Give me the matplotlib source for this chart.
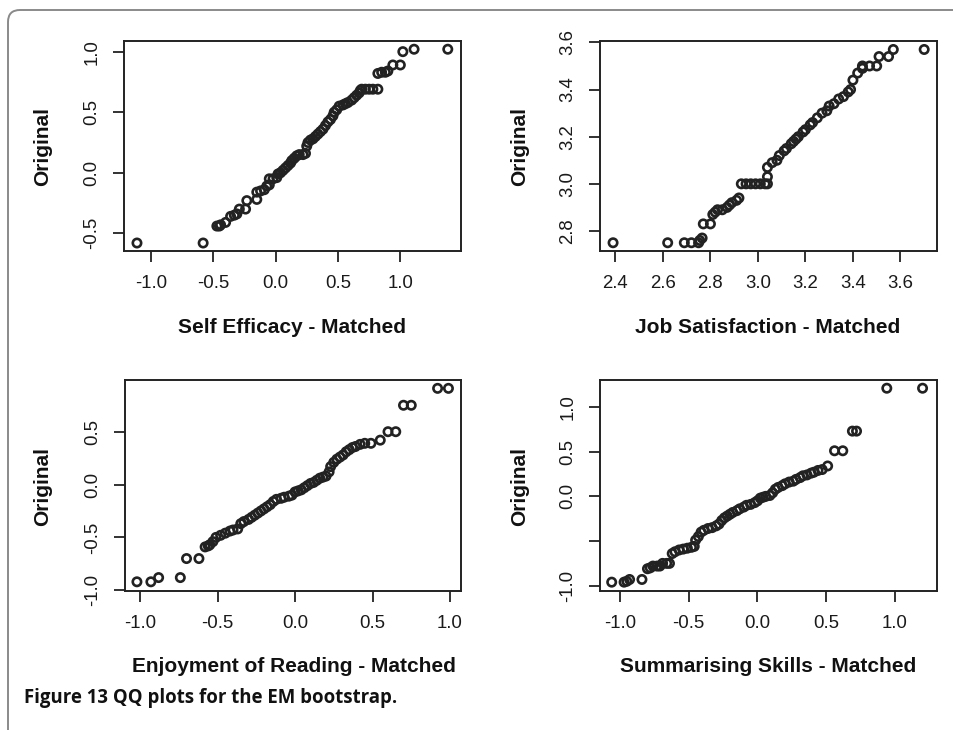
import matplotlib
matplotlib.use("Agg")
import matplotlib.pyplot as plt
from matplotlib.patches import FancyBboxPatch
from matplotlib.transforms import IdentityTransform

# ---------------- data (sorted quantiles) ----------------
se_matched = [-1.11, -0.58, -0.47, -0.45, -0.44, -0.40, -0.36, -0.33, -0.31, -0.29,
              -0.24, -0.23, -0.15, -0.15, -0.12, -0.09, -0.07, -0.05, -0.05, -0.02,
              0.01, 0.02, 0.04, 0.06, 0.08, 0.10, 0.12, 0.13, 0.15, 0.17,
              0.19, 0.22, 0.24, 0.25, 0.26, 0.28, 0.30, 0.32, 0.34, 0.36,
              0.38, 0.40, 0.42, 0.44, 0.46, 0.47, 0.49, 0.51, 0.54, 0.56,
              0.58, 0.61, 0.63, 0.65, 0.67, 0.68, 0.69, 0.72, 0.75, 0.78,
              0.82, 0.82, 0.85, 0.88, 0.90, 0.94, 1.00, 1.02, 1.11, 1.38]
se_original = [-0.58, -0.58, -0.44, -0.44, -0.43, -0.41, -0.36, -0.35, -0.34, -0.30,
               -0.30, -0.23, -0.22, -0.16, -0.15, -0.14, -0.11, -0.10, -0.05, -0.05,
               -0.04, -0.01, 0.00, 0.02, 0.04, 0.06, 0.08, 0.10, 0.12, 0.14,
               0.15, 0.15, 0.16, 0.22, 0.25, 0.27, 0.28, 0.30, 0.32, 0.34,
               0.36, 0.39, 0.42, 0.44, 0.47, 0.50, 0.52, 0.55, 0.56, 0.57,
               0.58, 0.60, 0.62, 0.64, 0.66, 0.68, 0.69, 0.69, 0.69, 0.69,
               0.69, 0.82, 0.83, 0.83, 0.84, 0.89, 0.89, 1.00, 1.02, 1.02]

js_matched = [2.39, 2.62, 2.69, 2.72, 2.75, 2.755, 2.765, 2.77, 2.80, 2.81,
              2.82, 2.83, 2.85, 2.87, 2.88, 2.89, 2.91, 2.92, 2.93, 2.95,
              2.97, 2.99, 3.01, 3.03, 3.04, 3.04, 3.04, 3.06, 3.08, 3.09,
              3.11, 3.12, 3.14, 3.15, 3.16, 3.17, 3.19, 3.20, 3.22, 3.23,
              3.25, 3.27, 3.29, 3.30, 3.32, 3.34, 3.36, 3.38, 3.39, 3.40,
              3.42, 3.44, 3.44, 3.47, 3.50, 3.51, 3.55, 3.57, 3.70]
js_original = [2.75, 2.75, 2.75, 2.75, 2.75, 2.76, 2.77, 2.83, 2.83, 2.87,
               2.88, 2.89, 2.89, 2.90, 2.91, 2.92, 2.93, 2.94, 3.00, 3.00,
               3.00, 3.00, 3.00, 3.00, 3.00, 3.03, 3.07, 3.09, 3.10, 3.12,
               3.14, 3.15, 3.17, 3.18, 3.19, 3.20, 3.22, 3.23, 3.25, 3.26,
               3.28, 3.30, 3.31, 3.33, 3.34, 3.36, 3.37, 3.39, 3.40, 3.44,
               3.47, 3.49, 3.50, 3.50, 3.50, 3.54, 3.54, 3.57, 3.57]

er_matched = [-1.02, -0.93, -0.88, -0.74, -0.70, -0.62, -0.58, -0.56, -0.55, -0.53,
              -0.51, -0.48, -0.45, -0.42, -0.40, -0.37, -0.35, -0.33, -0.30, -0.28,
              -0.26, -0.24, -0.22, -0.20, -0.18, -0.16, -0.14, -0.12, -0.09, -0.07,
              -0.04, -0.02, 0.00, 0.02, 0.04, 0.06, 0.08, 0.10, 0.12, 0.14,
              0.16, 0.18, 0.20, 0.22, 0.23, 0.25, 0.27, 0.29, 0.31, 0.33,
              0.35, 0.37, 0.39, 0.42, 0.45, 0.49, 0.55, 0.60, 0.65, 0.70,
              0.75, 0.92, 0.99]
er_original = [-0.92, -0.92, -0.88, -0.88, -0.70, -0.70, -0.59, -0.58, -0.57, -0.54,
               -0.50, -0.48, -0.46, -0.44, -0.43, -0.42, -0.37, -0.35, -0.33, -0.31,
               -0.29, -0.27, -0.25, -0.23, -0.21, -0.19, -0.16, -0.14, -0.13, -0.12,
               -0.11, -0.10, -0.07, -0.06, -0.05, -0.03, -0.01, 0.01, 0.02, 0.04,
               0.06, 0.07, 0.08, 0.12, 0.17, 0.21, 0.24, 0.26, 0.28, 0.31,
               0.33, 0.35, 0.36, 0.38, 0.39, 0.39, 0.42, 0.50, 0.50, 0.75,
               0.75, 0.91, 0.91]

ss_matched = [-1.06, -0.97, -0.95, -0.93, -0.84, -0.80, -0.78, -0.76, -0.73, -0.71,
              -0.69, -0.66, -0.64, -0.62, -0.60, -0.57, -0.54, -0.51, -0.48, -0.46,
              -0.45, -0.43, -0.41, -0.39, -0.36, -0.33, -0.30, -0.28, -0.26, -0.24,
              -0.22, -0.20, -0.18, -0.15, -0.13, -0.10, -0.08, -0.05, -0.02, 0.00,
              0.02, 0.04, 0.06, 0.09, 0.11, 0.13, 0.15, 0.18, 0.20, 0.23,
              0.26, 0.28, 0.31, 0.33, 0.36, 0.39, 0.41, 0.44, 0.47, 0.51,
              0.56, 0.62, 0.69, 0.72, 0.94, 1.20]
ss_original = [-0.96, -0.96, -0.95, -0.93, -0.93, -0.81, -0.80, -0.78, -0.78, -0.78,
               -0.75, -0.75, -0.75, -0.64, -0.62, -0.60, -0.59, -0.58, -0.57, -0.56,
               -0.49, -0.45, -0.40, -0.38, -0.36, -0.35, -0.33, -0.31, -0.27, -0.24,
               -0.22, -0.20, -0.18, -0.16, -0.14, -0.12, -0.10, -0.09, -0.07, -0.05,
               -0.02, -0.01, 0.00, 0.01, 0.04, 0.08, 0.10, 0.12, 0.14, 0.16,
               0.17, 0.19, 0.21, 0.23, 0.24, 0.26, 0.27, 0.29, 0.30, 0.34,
               0.51, 0.51, 0.73, 0.73, 1.21, 1.21]

x_labels = ["Self Efficacy - Matched", "Job Satisfaction - Matched",
            "Enjoyment of Reading - Matched", "Summarising Skills - Matched"]
y_label = "Original"
caption = "Figure 13 QQ plots for the EM bootstrap."

xticks_list = [[-1.0, -0.5, 0.0, 0.5, 1.0],
               [2.4, 2.6, 2.8, 3.0, 3.2, 3.4, 3.6],
               [-1.0, -0.5, 0.0, 0.5, 1.0],
               [-1.0, -0.5, 0.0, 0.5, 1.0]]
xticklabels_list = [["-1.0", "-0.5", "0.0", "0.5", "1.0"],
                    ["2.4", "2.6", "2.8", "3.0", "3.2", "3.4", "3.6"],
                    ["-1.0", "-0.5", "0.0", "0.5", "1.0"],
                    ["-1.0", "-0.5", "0.0", "0.5", "1.0"]]
yticks_list = [[-0.5, 0.0, 0.5, 1.0],
               [2.8, 3.0, 3.2, 3.4, 3.6],
               [-1.0, -0.5, 0.0, 0.5],
               [-1.0, -0.5, 0.0, 0.5, 1.0]]
yticklabels_list = [["-0.5", "0.0", "0.5", "1.0"],
                    ["2.8", "3.0", "3.2", "3.4", "3.6"],
                    ["-1.0", "-0.5", "0.0", "0.5"],
                    ["-1.0", "", "0.0", "0.5", "1.0"]]

# ---------------- layout ----------------
W, H = 954, 730
fig = plt.figure(figsize=(W / 100, H / 100), dpi=100)
fig.patch.set_facecolor("white")

# axes boxes in pixel coords (left, top, right, bottom)
boxes = [(124, 41, 461, 251), (600, 41, 937, 251),
         (125, 380, 461, 591), (600, 380, 937, 591)]
xlims = [(-1.214, 1.486), (2.335, 3.754), (-1.097, 1.071), (-1.145, 1.305)]
ylims = [(-0.646, 1.088), (2.715, 3.606), (-1.007, 0.989), (-1.059, 1.302)]
series = [(se_matched, se_original), (js_matched, js_original),
          (er_matched, er_original), (ss_matched, ss_original)]
xlabel_pos = [(292, 328), (768, 328), (294, 667), (768, 667)]
ylabel_pos = [(43, 146), (520, 146), (43, 486), (520, 486)]

ink = "#222222"
tickfont = dict(family=["Liberation Sans", "DejaVu Sans"], size=13.4)
labfont = dict(family=["Liberation Sans", "DejaVu Sans"], size=15, weight="bold")

for i in range(4):
    l, t, r, b = boxes[i]
    ax = fig.add_axes([l / W, (H - b) / H, (r - l) / W, (b - t) / H])
    xs, ys = series[i]
    ax.scatter(xs, ys, s=36, facecolors="none", edgecolors=ink, linewidths=1.9, zorder=3)
    ax.set_xlim(*xlims[i])
    ax.set_ylim(*ylims[i])
    ax.set_xticks(xticks_list[i])
    ax.set_xticklabels(xticklabels_list[i], fontdict=tickfont)
    ax.set_yticks(yticks_list[i])
    ax.set_yticklabels(yticklabels_list[i], fontdict=tickfont, rotation=90, va="center")
    ax.tick_params(direction="out", length=8, width=1.3, color=ink, pad=9, labelcolor="#1a1a1a")
    for sp in ax.spines.values():
        sp.set_linewidth(1.4)
        sp.set_color(ink)
    fig.text(xlabel_pos[i][0] / W, 1 - xlabel_pos[i][1] / H, x_labels[i],
             ha="center", va="center", color="#111111", fontdict=labfont)
    fig.text(ylabel_pos[i][0] / W, 1 - ylabel_pos[i][1] / H, y_label,
             ha="center", va="center", rotation=90, color="#111111", fontdict=labfont)

# caption
fig.text(24 / W, 1 - 698 / H, caption, ha="left", va="center",
         family=["Open Sans", "DejaVu Sans"], weight="bold", size=13.4, color="#111111")

# rounded frame (top-left corner visible)
frame = FancyBboxPatch((8, -80), 1100, H - 10 + 80,
                       boxstyle="round,pad=0,rounding_size=12",
                       transform=IdentityTransform(), facecolor="none",
                       edgecolor="#8a8a8a", linewidth=1.4)
fig.patches.append(frame)

fig.savefig("out.png", dpi=100, facecolor="white")
